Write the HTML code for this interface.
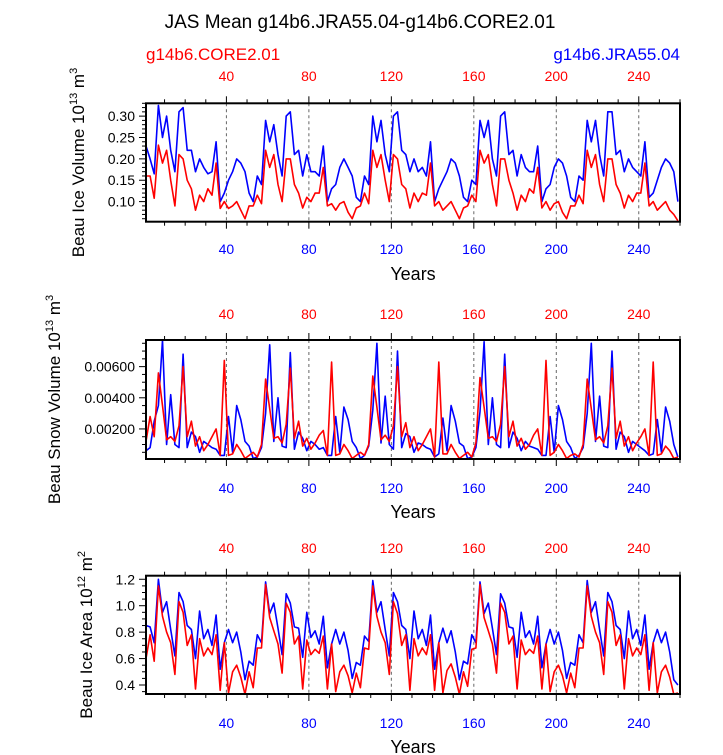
<!DOCTYPE html>
<html><head><meta charset="utf-8"><style>
html,body{margin:0;padding:0;background:#fff;}
svg{display:block;font-family:"Liberation Sans",Arial,sans-serif;}
</style></head><body>
<svg id="chart" width="723" height="755" viewBox="0 0 723 755">
<text x="360" y="28" font-size="19" text-anchor="middle">JAS Mean g14b6.JRA55.04-g14b6.CORE2.01</text>
<text x="146" y="60" font-size="17" fill="#f00">g14b6.CORE2.01</text>
<text x="680" y="60" font-size="17" fill="#00f" text-anchor="end">g14b6.JRA55.04</text>
</svg>
<script>
const years=[];for(let i=1;i<=259;i+=2)years.push(i);
const volBlue=[0.23,0.20,0.165,0.325,0.25,0.30,0.22,0.17,0.31,0.32,0.22,0.22,0.17,0.20,0.18,0.165,0.17,0.24,0.10,0.12,0.15,0.17,0.20,0.19,0.17,0.12,
0.10,0.16,0.14,0.29,0.24,0.28,0.21,0.16,0.30,0.31,0.21,0.22,0.16,0.21,0.17,0.17,0.16,0.23,0.10,0.13,0.14,0.18,0.20,0.18,0.16,0.11,
0.10,0.16,0.14,0.30,0.24,0.29,0.21,0.17,0.30,0.31,0.22,0.21,0.17,0.20,0.17,0.18,0.16,0.24,0.10,0.13,0.15,0.17,0.20,0.19,0.16,0.11,
0.10,0.15,0.14,0.29,0.25,0.29,0.20,0.16,0.30,0.31,0.21,0.22,0.16,0.21,0.18,0.17,0.17,0.23,0.10,0.13,0.14,0.18,0.20,0.19,0.16,0.11,
0.10,0.16,0.15,0.29,0.24,0.29,0.21,0.16,0.31,0.31,0.21,0.22,0.17,0.20,0.18,0.17,0.16,0.24,0.11,0.12,0.15,0.18,0.20,0.19,0.17,0.10];
const volRed=[0.16,0.16,0.108,0.232,0.19,0.22,0.15,0.09,0.21,0.20,0.15,0.13,0.08,0.115,0.10,0.13,0.115,0.19,0.084,0.10,0.084,0.09,0.10,0.08,0.06,0.09,
0.09,0.115,0.095,0.22,0.18,0.21,0.14,0.10,0.20,0.20,0.14,0.12,0.085,0.11,0.10,0.12,0.12,0.18,0.09,0.095,0.08,0.095,0.10,0.075,0.06,0.085,
0.09,0.12,0.095,0.22,0.18,0.21,0.15,0.10,0.21,0.20,0.14,0.13,0.085,0.12,0.10,0.12,0.115,0.19,0.09,0.10,0.08,0.09,0.10,0.08,0.06,0.085,
0.09,0.115,0.10,0.22,0.19,0.21,0.14,0.09,0.20,0.20,0.15,0.12,0.08,0.115,0.10,0.13,0.12,0.18,0.085,0.10,0.08,0.095,0.10,0.075,0.06,0.09,
0.09,0.115,0.095,0.22,0.18,0.21,0.14,0.10,0.20,0.20,0.14,0.12,0.085,0.115,0.10,0.12,0.12,0.19,0.09,0.10,0.08,0.09,0.10,0.08,0.07,0.055];
const snowBlue=[0.6,0.8,2.5,3.5,7.7,1.0,4.2,1.0,0.8,6.8,0.8,1.8,1.5,0.5,1.2,1.0,0.8,0.7,0.3,0.3,2.8,0.5,3.5,2.6,1.2,0.9,
0.1,0.2,0.8,3.0,7.4,1.2,4.0,0.9,0.8,6.9,0.7,1.8,1.4,0.6,1.2,1.0,0.7,0.8,0.3,0.3,2.8,0.5,3.4,2.6,1.2,0.8,
0.1,0.3,0.9,3.2,7.5,1.1,4.1,1.0,0.7,7.0,0.8,1.7,1.5,0.5,1.1,1.0,0.8,0.7,0.2,0.4,2.7,0.6,3.5,2.5,1.1,0.9,
0.1,0.2,0.8,3.1,7.6,1.0,4.0,1.0,0.8,6.8,0.8,1.8,1.4,0.6,1.2,0.9,0.8,0.7,0.3,0.3,2.8,0.5,3.5,2.6,1.2,0.8,
0.1,0.3,0.8,3.0,7.5,1.2,4.1,0.9,0.8,7.0,0.7,1.8,1.5,0.5,1.2,1.0,0.8,0.6,0.3,0.4,2.6,0.5,3.4,2.5,1.0,0.2];
const snowRed=[1.2,2.8,1.5,5.6,3.5,1.3,1.5,1.2,2.2,6.0,1.5,2.5,0.9,1.5,0.6,1.0,1.5,2.0,0.3,6.4,0.3,0.4,1.0,0.6,0.1,0.3,
0.5,0.2,1.0,5.2,3.3,1.4,1.5,1.1,2.3,5.9,1.4,2.5,0.9,1.4,0.7,1.1,1.6,1.9,0.3,6.3,0.3,0.4,1.0,0.6,0.1,0.3,
0.5,0.3,1.0,5.4,3.4,1.3,1.6,1.2,2.2,6.0,1.5,2.4,0.8,1.5,0.6,1.0,1.5,2.0,0.2,6.3,0.4,0.4,1.0,0.5,0.1,0.3,
0.5,0.2,1.1,5.3,3.4,1.4,1.5,1.2,2.3,6.0,1.5,2.5,0.9,1.4,0.7,1.0,1.6,2.0,0.3,6.4,0.3,0.5,1.0,0.6,0.1,0.3,
0.4,0.2,1.0,5.2,3.3,1.3,1.5,1.1,2.2,5.9,1.4,2.5,0.9,1.5,0.6,1.1,1.5,2.0,0.3,6.3,0.3,0.4,0.9,0.6,0.1,0.2];
const areaBlue=[0.85,0.84,0.72,1.20,0.95,1.03,0.82,0.62,1.10,1.03,0.85,0.82,0.60,0.96,0.75,0.82,0.70,0.93,0.52,0.72,0.82,0.72,0.80,0.65,0.44,0.58,
0.55,0.78,0.72,1.18,0.94,1.02,0.83,0.63,1.09,1.02,0.84,0.83,0.61,0.95,0.76,0.81,0.71,0.92,0.53,0.71,0.82,0.71,0.80,0.66,0.45,0.57,
0.55,0.77,0.73,1.19,0.95,1.03,0.82,0.62,1.10,1.03,0.85,0.82,0.60,0.96,0.75,0.82,0.70,0.93,0.52,0.72,0.83,0.72,0.81,0.65,0.44,0.58,
0.56,0.78,0.72,1.18,0.94,1.02,0.83,0.63,1.09,1.02,0.84,0.83,0.61,0.95,0.76,0.81,0.71,0.92,0.53,0.71,0.82,0.71,0.80,0.66,0.45,0.57,
0.55,0.78,0.72,1.19,0.95,1.03,0.82,0.62,1.10,1.03,0.85,0.82,0.60,0.96,0.75,0.82,0.70,0.93,0.52,0.72,0.82,0.72,0.80,0.65,0.44,0.40];
const areaRed=[0.60,0.78,0.58,1.15,0.92,0.80,0.72,0.48,1.03,0.95,0.70,0.78,0.37,0.75,0.62,0.68,0.63,0.78,0.36,0.72,0.34,0.50,0.55,0.46,0.33,0.50,
0.38,0.68,0.68,1.16,0.91,0.81,0.71,0.49,1.02,0.95,0.71,0.77,0.37,0.74,0.63,0.67,0.64,0.77,0.37,0.71,0.35,0.50,0.55,0.47,0.34,0.49,
0.38,0.68,0.67,1.15,0.92,0.80,0.72,0.48,1.03,0.94,0.70,0.78,0.36,0.75,0.62,0.68,0.63,0.78,0.36,0.72,0.34,0.51,0.56,0.46,0.33,0.50,
0.39,0.67,0.68,1.16,0.91,0.81,0.71,0.49,1.02,0.95,0.71,0.77,0.37,0.74,0.63,0.67,0.64,0.77,0.37,0.71,0.35,0.50,0.55,0.47,0.34,0.49,
0.38,0.68,0.68,1.15,0.92,0.80,0.72,0.48,1.03,0.95,0.70,0.78,0.37,0.75,0.62,0.68,0.63,0.78,0.36,0.72,0.34,0.50,0.55,0.46,0.33,0.34];
const xTicks=[40,80,120,160,200,240];
const volTicks=[0.10,0.15,0.20,0.25,0.30];
const volTickLabels=["0.10","0.15","0.20","0.25","0.30"];
const snowTicks=[2,4,6];
const snowTickLabels=["0.00200","0.00400","0.00600"];
const areaTicks=[0.4,0.6,0.8,1.0,1.2];
const areaTickLabels=["0.4","0.6","0.8","1.0","1.2"];

const NS="http://www.w3.org/2000/svg";
const svg=document.getElementById('chart');
function mk(tag,attrs,parent){const e=document.createElementNS(NS,tag);for(const k in attrs)e.setAttribute(k,attrs[k]);(parent||svg).appendChild(e);return e;}
const L=146,R=680;
const xS=v=>L+(v-1)*(R-L)/259;

function panel(key,top,bot,ymin,ymax,ticks,labels,minStep,blue,red,title,titleX,topLblY,botLblY,yearsY){
  const g=mk('g',{});
  
  
  const yS=v=>bot-(v-ymin)*(bot-top)/(ymax-ymin);
  // dashed grid
  xTicks.forEach(t=>{
    const l=mk('line',{x1:xS(t),x2:xS(t),y1:top,y2:bot,stroke:'#666','stroke-width':1,'stroke-dasharray':'3,3'},g);
    
    
  });
  // x ticks
  for(let t=10;t<=260;t+=10){
    const major=t%40===0, len=major?7:4;
    mk('line',{x1:xS(t),x2:xS(t),y1:bot,y2:bot+len,stroke:'#000','stroke-width':1},g);
    mk('line',{x1:xS(t),x2:xS(t),y1:top,y2:top-len,stroke:'#000','stroke-width':1},g);
  }
  xTicks.forEach(t=>{
    const b=mk('text',{x:xS(t),y:botLblY,'font-size':14,fill:'#00f','text-anchor':'middle'},g);b.textContent=t;
    
    
    const tt=mk('text',{x:xS(t),y:topLblY,'font-size':14,fill:'#f00','text-anchor':'middle'},g);tt.textContent=t;
    
    
  });
  // y ticks
  for(let v=Math.ceil(ymin/minStep)*minStep;v<=ymax+1e-9;v+=minStep){
    const y=yS(v); if(y<top-0.5||y>bot+0.5)continue;
    const isMaj=ticks.some(t=>Math.abs(t-v)<minStep/2);
    mk('line',{x1:L-(isMaj?7:4),x2:L,y1:y,y2:y,stroke:'#000','stroke-width':1},g);
  }
  ticks.forEach((t,i)=>{
    const e=mk('text',{x:L-11,y:yS(t)+5,'font-size':14,'text-anchor':'end'},g);e.textContent=labels[i];
    
    
  });
  // series
  const ptsB=years.map((yr,i)=>xS(yr).toFixed(1)+','+yS(blue[i]).toFixed(1)).join(' ');
  const ptsR=years.map((yr,i)=>xS(yr).toFixed(1)+','+yS(red[i]).toFixed(1)).join(' ');
  const cp=mk('clipPath',{id:'cp-'+key},g);mk('rect',{x:L,y:top,width:R-L,height:bot-top},cp);
  const pb=mk('polyline',{points:ptsB,fill:'none',stroke:'#00f','stroke-width':1.6,'stroke-linejoin':'round','clip-path':'url(#cp-'+key+')'},g);
  
  
  const pr=mk('polyline',{points:ptsR,fill:'none',stroke:'#f00','stroke-width':1.6,'stroke-linejoin':'round','clip-path':'url(#cp-'+key+')'},g);
  
  
  const fr=mk('rect',{x:L,y:top,width:R-L,height:bot-top,fill:'none',stroke:'#000','stroke-width':2},g);
  
  
  // titles
  const cy=(top+bot)/2;
  const yt=mk('text',{x:titleX,y:cy,'font-size':17,'text-anchor':'middle',transform:'rotate(-90 '+titleX+' '+cy+')'},g);
  yt.innerHTML=title;
  
  
  const xt=mk('text',{x:413,y:yearsY,'font-size':18,'text-anchor':'middle'},g);xt.textContent='Years';
  
  
}
panel('ice-volume',103.3,221.7,0.053,0.33,volTicks,volTickLabels,0.01,volBlue,volRed,
 'Beau Ice Volume 10<tspan dy="-7" font-size="11">13</tspan><tspan dy="7"> m</tspan><tspan dy="-7" font-size="11">3</tspan>',84,81,254,280);
panel('snow-volume',340,459,0.07,7.71,snowTicks,snowTickLabels,0.5,snowBlue,snowRed,
 'Beau Snow Volume 10<tspan dy="-7" font-size="11">13</tspan><tspan dy="7"> m</tspan><tspan dy="-7" font-size="11">3</tspan>',60,319,493,518);
panel('ice-area',575.7,694,0.332,1.227,areaTicks,areaTickLabels,0.05,areaBlue,areaRed,
 'Beau Ice Area 10<tspan dy="-7" font-size="11">12</tspan><tspan dy="7"> m</tspan><tspan dy="-7" font-size="11">2</tspan>',92,553,728,753);
</script>
</body></html>
